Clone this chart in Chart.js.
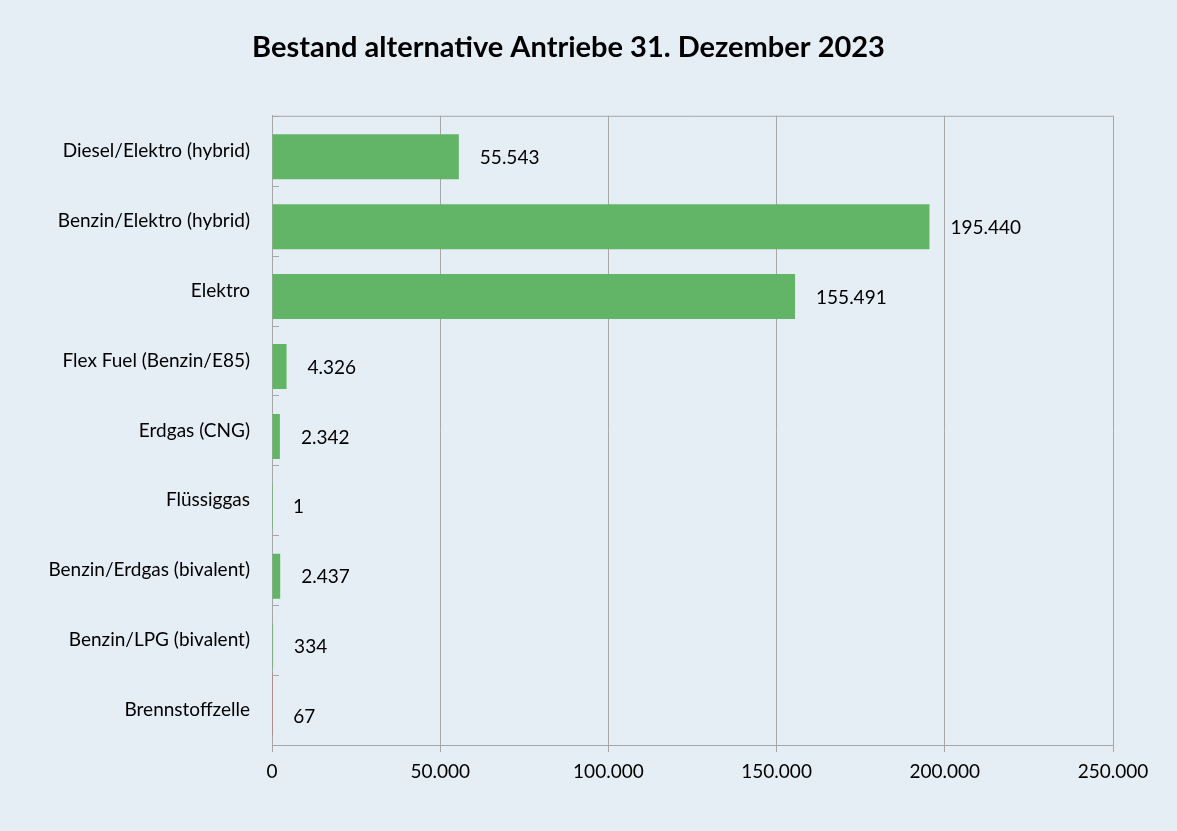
<!doctype html>
<html lang="de">
  <head>
    <meta charset="utf-8">
    <title>Bestand alternative Antriebe</title>
    <style>
      * { margin: 0; padding: 0; }
      body { background: #e6eef5; }
      .chartBox { width: 1177px; height: 831px; }
    </style>
  </head>
  <body>
    <div class="chartBox">
      <canvas id="myChart" width="1177" height="831"></canvas>
    </div>
    <script src="https://cdn.jsdelivr.net/npm/chart.js/dist/chart.umd.min.js"></script>
    <script>
    // data
    const antriebe = [
      'Diesel/Elektro (hybrid)',
      'Benzin/Elektro (hybrid)',
      'Elektro',
      'Flex Fuel (Benzin/E85)',
      'Erdgas (CNG)',
      'Flüssiggas',
      'Benzin/Erdgas (bivalent)',
      'Benzin/LPG (bivalent)',
      'Brennstoffzelle'
    ];
    const bestand = [55543, 195440, 155491, 4326, 2342, 1, 2437, 334, 67];
    const xTicks = [0, 50000, 100000, 150000, 200000, 250000];

    // Brennstoffzelle sits in its own (red) series, everything else is green
    const last = antriebe.length - 1;
    const gruen = bestand.map((v, i) => i === last ? null : v);
    const rot = bestand.map((v, i) => i === last ? v : null);

    // 55543 -> "55.543"
    function fmt(v) {
      return String(v).replace(/\B(?=(\d{3})+(?!\d))/g, '.');
    }

    const font = 'Lato, "Liberation Sans", sans-serif';
    const lineColor = '#a6a6a6';

    // plot frame, inward category ticks and value labels
    const extras = {
      id: 'extras',
      afterDatasetsDraw(chart) {
        const c = chart.ctx;
        const a = chart.chartArea;
        const y = chart.scales.y;
        const x = chart.scales.x;
        c.save();
        c.strokeStyle = lineColor;
        c.lineWidth = 1;
        c.beginPath();
        c.moveTo(a.left, a.top + 0.5);
        c.lineTo(a.right, a.top + 0.5);
        for (let i = 0; i <= antriebe.length; i++) {
          const py = Math.round(y.getPixelForValue(i - 0.5)) + 0.5;
          c.moveTo(a.left, py);
          c.lineTo(a.left + 7, py);
        }
        c.stroke();

        c.fillStyle = '#000';
        c.font = '19px ' + font;
        c.textBaseline = 'middle';
        c.textAlign = 'left';
        const bars = chart.getDatasetMeta(1).data;
        bestand.forEach((v, i) => {
          c.fillText(fmt(v), x.getPixelForValue(v) + 21, bars[i].y + 1);
        });
        c.restore();
      }
    };

    const config = {
      type: 'bar',
      data: {
        labels: antriebe,
        datasets: [{
          label: 'Brennstoffzelle',
          data: rot,
          backgroundColor: '#c0504d',
          borderWidth: 0,
          barPercentage: 5.2
        }, {
          label: 'Bestand',
          data: gruen,
          backgroundColor: '#62b566',
          borderWidth: 0,
          barPercentage: 3.75
        }]
      },
      options: {
        indexAxis: 'y',
        responsive: false,
        animation: false,
        datasets: { bar: { categoryPercentage: 0.343 } },
        layout: { padding: { left: 24, right: 64, top: 0, bottom: 0 } },
        plugins: {
          legend: { display: false },
          tooltip: { enabled: false },
          title: {
            display: true,
            text: 'Bestand alternative Antriebe 31. Dezember 2023',
            color: '#000',
            font: { family: font, size: 29, weight: 'bold', lineHeight: 1.2 },
            padding: { top: 30, bottom: 51 }
          }
        },
        scales: {
          x: {
            min: 0,
            max: 250000,
            afterBuildTicks(scale) {
              scale.ticks = xTicks.map(v => ({ value: v }));
            },
            afterFit(scale) { scale.height = 86; },
            grid: {
              color: lineColor,
              tickColor: lineColor,
              tickLength: 7
            },
            border: { color: lineColor },
            ticks: {
              color: '#000',
              padding: 8,
              font: { family: font, size: 19 },
              callback: v => fmt(v)
            }
          },
          y: {
            afterFit(scale) { scale.width = 248; },
            grid: { display: false },
            border: { color: lineColor, width: 1 },
            ticks: {
              color: '#000',
              padding: 14,
              font: { family: font, size: 19 }
            }
          }
        }
      },
      plugins: [extras]
    };

    const myChart = new Chart(document.getElementById('myChart'), config);
    </script>
  </body>
</html>
